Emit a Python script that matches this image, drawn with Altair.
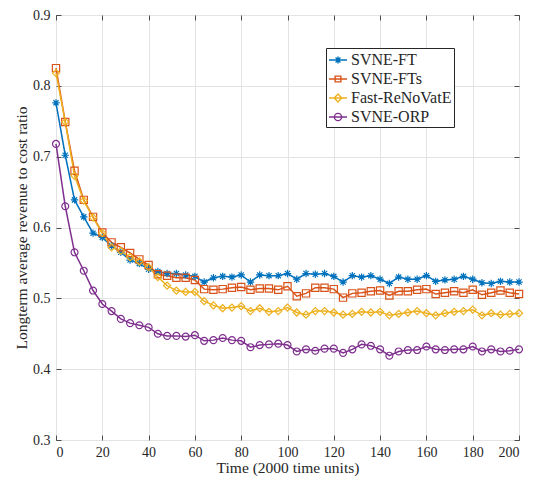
import altair as alt
import pandas as pd

x_vals = list(range(0, 201, 4))

series_names = ["SVNE-FT", "SVNE-FTs", "Fast-ReNoVatE", "SVNE-ORP"]
colors = ["#0072BD", "#D95319", "#EDB120", "#7E2F8E"]

svne_ft = [0.776, 0.702, 0.639, 0.615, 0.592, 0.586, 0.574, 0.565, 0.554, 0.549,
           0.541, 0.538, 0.535, 0.535, 0.533, 0.531, 0.523, 0.529, 0.531, 0.530,
           0.533, 0.523, 0.533, 0.532, 0.532, 0.535, 0.527, 0.535, 0.534, 0.535,
           0.531, 0.523, 0.532, 0.530, 0.532, 0.527, 0.521, 0.530, 0.527, 0.527,
           0.532, 0.524, 0.526, 0.527, 0.531, 0.527, 0.522, 0.521, 0.524, 0.523,
           0.523]
svne_fts = [0.825, 0.749, 0.680, 0.639, 0.615, 0.593, 0.579, 0.572, 0.564, 0.555,
            0.547, 0.534, 0.532, 0.529, 0.529, 0.526, 0.513, 0.512, 0.513, 0.515,
            0.516, 0.512, 0.514, 0.514, 0.512, 0.517, 0.503, 0.507, 0.515, 0.515,
            0.513, 0.501, 0.507, 0.508, 0.510, 0.511, 0.504, 0.510, 0.510, 0.512,
            0.513, 0.506, 0.508, 0.510, 0.508, 0.512, 0.505, 0.508, 0.511, 0.508,
            0.506]
fast_renovate = [0.818, 0.749, 0.673, 0.638, 0.614, 0.592, 0.572, 0.567, 0.558, 0.552,
                 0.544, 0.530, 0.518, 0.511, 0.509, 0.509, 0.496, 0.490, 0.486, 0.487,
                 0.489, 0.482, 0.486, 0.481, 0.482, 0.487, 0.480, 0.477, 0.482, 0.482,
                 0.480, 0.477, 0.478, 0.481, 0.480, 0.481, 0.476, 0.478, 0.480, 0.482,
                 0.479, 0.476, 0.479, 0.481, 0.482, 0.484, 0.476, 0.479, 0.477, 0.478,
                 0.479]
svne_orp = [0.718, 0.630, 0.565, 0.539, 0.511, 0.492, 0.482, 0.471, 0.465, 0.462,
            0.459, 0.450, 0.447, 0.447, 0.446, 0.448, 0.440, 0.441, 0.444, 0.441,
            0.440, 0.431, 0.434, 0.435, 0.436, 0.434, 0.425, 0.428, 0.426, 0.429,
            0.429, 0.423, 0.428, 0.435, 0.433, 0.428, 0.419, 0.425, 0.427, 0.427,
            0.432, 0.428, 0.427, 0.428, 0.428, 0.432, 0.425, 0.428, 0.425, 0.426,
            0.428]

x_ticks = list(range(0, 201, 20))
y_ticks = [0.3, 0.4, 0.5, 0.6, 0.7, 0.8, 0.9]

rows = []
for name, vals in zip(series_names, [svne_ft, svne_fts, fast_renovate, svne_orp]):
    for xv, yv in zip(x_vals, vals):
        rows.append({"x": xv, "value": yv, "series": name})
df = pd.DataFrame(rows)

FONT = "'Liberation Serif', 'Times New Roman', Times, 'DejaVu Serif', serif"
TXT = "#262626"

ast = "M0,-1V1M-1,0H1M-0.7,-0.7L0.7,0.7M-0.7,0.7L0.7,-0.7"
point_shapes = [ast, "square", "diamond", "circle"]
point_sizes = [55, 48, 70, 72]

leg_shapes = [
    "M-1,0H1M0,-0.38V0.38M-0.38,0H0.38M-0.27,-0.27L0.27,0.27M-0.27,0.27L0.27,-0.27",
    "M-1,0H1M-0.32,-0.32H0.32V0.32H-0.32Z",
    "M-1,0H1M0,-0.45L0.42,0L0,0.45L-0.42,0Z",
    "M-1,0H1M0.4,0A0.4,0.4 0 1 1 -0.4,0A0.4,0.4 0 1 1 0.4,0Z",
]

xscale = alt.Scale(domain=[0, 200], nice=False, zero=False)
yscale = alt.Scale(domain=[0.3, 0.9], nice=False, zero=False)
cscale = alt.Scale(domain=series_names, range=colors)

base = alt.Chart(df)

lines = base.mark_line(strokeWidth=1.5).encode(
    x=alt.X("x:Q", scale=xscale, axis=alt.Axis(
        orient="bottom", values=x_ticks, ticks=False, domain=False, grid=True,
        gridColor="#e3e3e3", labelFont=FONT, labelFontSize=14, labelColor=TXT,
        labelPadding=5, title="Time (2000 time units)", titleFont=FONT,
        titleFontSize=15.5, titleFontWeight="normal", titleColor=TXT, titlePadding=1)),
    y=alt.Y("value:Q", scale=yscale, axis=alt.Axis(
        orient="left", values=y_ticks, format=".1f", ticks=False, domain=False,
        grid=True, gridColor="#e3e3e3", labelFont=FONT, labelFontSize=14,
        labelColor=TXT, labelPadding=6,
        title="Longterm average revenue to cost ratio", titleFont=FONT,
        titleFontSize=15.5, titleFontWeight="normal", titleColor=TXT, titlePadding=3)),
    color=alt.Color("series:N", scale=cscale, legend=None),
    detail="series:N",
)

points = base.mark_point(filled=False, strokeWidth=1.2, opacity=1).encode(
    x=alt.X("x:Q", scale=xscale, axis=alt.Axis(
        orient="top", values=x_ticks, offset=-5, tickSize=5, labels=False,
        domain=False, grid=False, title=None, tickColor=TXT, tickWidth=0.8)),
    y=alt.Y("value:Q", scale=yscale, axis=alt.Axis(
        orient="right", values=y_ticks, offset=-5, tickSize=5, labels=False,
        domain=False, grid=False, title=None, tickColor=TXT, tickWidth=0.8)),
    color=alt.Color("series:N", scale=cscale, legend=None),
    shape=alt.Shape("series:N", scale=alt.Scale(domain=series_names, range=point_shapes), legend=None),
    size=alt.Size("series:N", scale=alt.Scale(domain=series_names, range=point_sizes), legend=None),
)

leg = alt.Legend(
    title=None, orient="none", legendX=270, legendY=33, symbolSize=324,
    symbolStrokeWidth=1.4, labelFont=FONT, labelFontSize=16, labelColor=TXT,
    labelOffset=3, padding=2, rowPadding=1, strokeColor=TXT, fillColor="white",
    symbolFillColor="transparent", labelLimit=200,
)

legend_layer = base.transform_filter("datum.x < 0").transform_calculate(
    series2="datum.series"
).mark_point(filled=False, strokeWidth=1.4, opacity=1).encode(
    x=alt.X("x:Q", scale=xscale, axis=alt.Axis(
        orient="bottom", values=x_ticks, offset=-5, tickSize=5, labels=False,
        domain=False, grid=False, title=None, tickColor=TXT, tickWidth=0.8)),
    y=alt.Y("value:Q", scale=yscale, axis=alt.Axis(
        orient="left", values=y_ticks, offset=-5, tickSize=5, labels=False,
        domain=False, grid=False, title=None, tickColor=TXT, tickWidth=0.8)),
    color=alt.Color("series2:N", scale=alt.Scale(domain=series_names, range=colors), legend=leg),
    shape=alt.Shape("series2:N", scale=alt.Scale(domain=series_names, range=leg_shapes), legend=leg),
)

chart = alt.layer(lines, points, legend_layer).resolve_axis(
    x="independent", y="independent"
).resolve_scale(
    color="independent", shape="independent", size="independent"
).properties(
    width=463, height=425, autosize="none",
    padding={"left": 48, "top": 7, "right": 16, "bottom": 36},
    background="white",
).configure_view(stroke="#404040", strokeWidth=1)

chart.save("out.html", embed_options={"renderer": "svg", "actions": False})
